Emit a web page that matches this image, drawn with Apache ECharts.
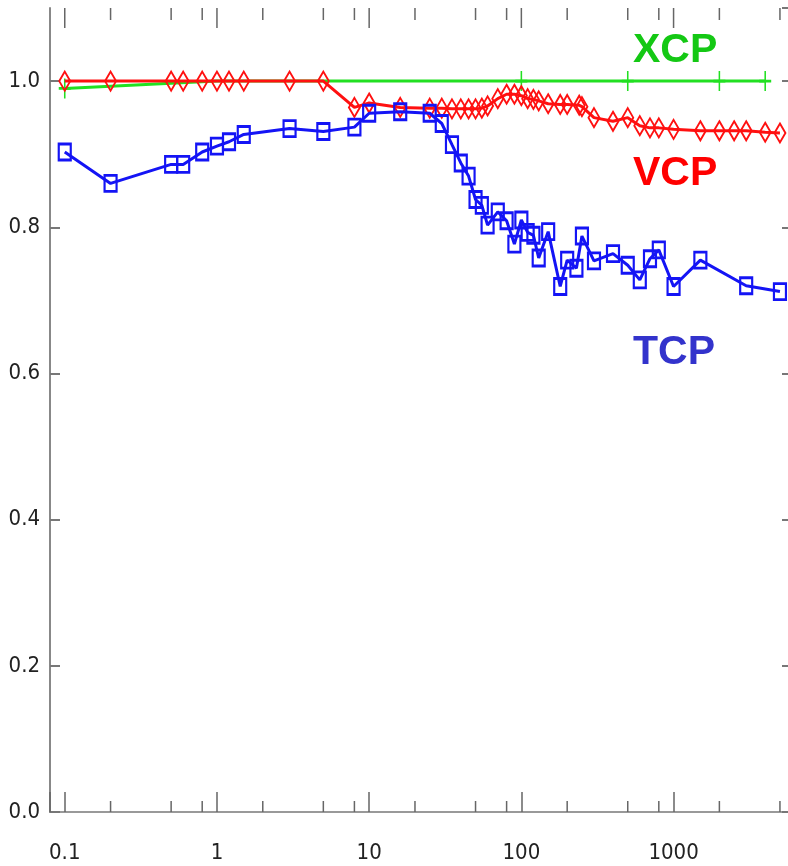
<!DOCTYPE html>
<html>
<head>
<meta charset="utf-8">
<script src="https://cdn.jsdelivr.net/npm/echarts@6/dist/echarts.min.js"></script>
<style>
html,body{margin:0;padding:0;background:#fff;}
#chart{width:788px;height:866px;}
</style>
</head>
<body>
<div id="chart"></div>
<script>
// ---- data ----
const tcpX = [0.1,0.2,0.5,0.6,0.8,1,1.2,1.5,3,5,8,10,16,25,30,35,40,45,50,55,60,70,80,90,100,110,120,130,150,180,200,230,250,300,400,500,600,700,800,1000,1500,3000,5000];
const tcpY = [0.903,0.860,0.886,0.886,0.903,0.911,0.917,0.927,0.935,0.931,0.937,0.956,0.958,0.956,0.942,0.913,0.888,0.870,0.838,0.830,0.803,0.821,0.809,0.777,0.810,0.793,0.789,0.758,0.794,0.719,0.755,0.744,0.788,0.754,0.764,0.748,0.728,0.757,0.769,0.719,0.755,0.720,0.712];

const vcpX = [0.1,0.2,0.5,0.6,0.8,1,1.2,1.5,3,5,8,10,16,25,30,35,40,45,50,55,60,70,80,90,100,110,120,130,150,180,200,240,250,300,400,500,600,700,800,1000,1500,2000,2500,3000,4000,5000];
const vcpY = [1,1,1,1,1,1,1,1,1,1,0.964,0.970,0.964,0.963,0.963,0.962,0.962,0.962,0.962,0.963,0.966,0.976,0.982,0.982,0.980,0.976,0.975,0.973,0.969,0.968,0.968,0.967,0.965,0.950,0.945,0.950,0.939,0.936,0.936,0.934,0.932,0.932,0.932,0.932,0.930,0.929];

const xcpX = [0.1,0.2,0.5,1,100,500,2000,4000];
const xcpY = [0.990,0.993,0.997,1.0,1.0,1.0,1.0,1.0];

const xTickValues = [0.1,1,10,100,1000];
const xTickLabels = ['0.1','1','10','100','1000'];
const xMinorTicks = [0.2,0.5,0.8,2,5,8,20,50,80,200,500,800,2000,5000];

const seriesNames = ['XCP','VCP','TCP'];

// ---- chart ----
const X_MIN = 0.08, X_MAX = 6000, Y_MIN = 0, Y_MAX = 1.1;
const axisFont = '"Liberation Sans Narrow","DejaVu Sans Condensed","Liberation Sans",sans-serif';
const chart = echarts.init(document.getElementById('chart'), null, {renderer:'canvas'});
const zip = (xs, ys) => xs.map((x, i) => [x, ys[i]]);
const plusPath = 'path://M5,0L5,10M0,5L10,5';

function xLabel(v){
  const i = xTickValues.findIndex(t => Math.abs(Math.log10(v) - Math.log10(t)) < 1e-6);
  return i >= 0 ? xTickLabels[i] : '';
}

function tickSeries(values, lenBottom, lenTop){
  return {
    type: 'custom', silent: true, clip: false, z: 1,
    data: values.map(v => [v, 0]),
    encode: {x: 0, y: 1},
    renderItem: function(params, api){
      const pb = api.coord([api.value(0), Y_MIN]);
      const pt = api.coord([api.value(0), Y_MAX]);
      const st = {stroke: '#666', lineWidth: 1.5};
      const children = [];
      if (lenBottom > 0) children.push({type: 'line', shape: {x1: pb[0], y1: pb[1], x2: pb[0], y2: pb[1] - lenBottom}, style: st});
      if (lenTop > 0) children.push({type: 'line', shape: {x1: pt[0], y1: pt[1], x2: pt[0], y2: pt[1] + lenTop}, style: st});
      return {type: 'group', children: children};
    }
  };
}

const option = {
  animation: false,
  backgroundColor: '#fff',
  grid: {left: 50, top: 8, right: -4, bottom: 54, containLabel: false, outerBoundsMode: 'none'},
  xAxis: [
    {
      type: 'log', logBase: 10, min: X_MIN, max: X_MAX, position: 'bottom',
      axisLine: {show: true, lineStyle: {color: '#555', width: 2}},
      axisTick: {show: true, inside: true, length: 20, lineStyle: {color: '#666', width: 1.5}},
      axisLabel: {show: true, formatter: xLabel, margin: 30, color: '#222', fontFamily: axisFont, fontSize: 22},
      splitLine: {show: false}, minorTick: {show: false}
    },
    {
      type: 'log', logBase: 10, min: X_MIN, max: X_MAX, position: 'top',
      axisLine: {show: true, lineStyle: {color: '#999', width: 2}},
      axisTick: {show: false},
      axisLabel: {show: false}, splitLine: {show: false}
    }
  ],
  yAxis: [
    {
      type: 'value', min: Y_MIN, max: Y_MAX, interval: 0.2, position: 'left',
      axisLine: {show: true, lineStyle: {color: '#888', width: 2}},
      axisTick: {show: true, inside: true, length: 10, lineStyle: {color: '#777', width: 2}},
      axisLabel: {formatter: v => v.toFixed(1), showMaxLabel: false, margin: 10, color: '#222',
                  fontFamily: axisFont, fontSize: 22},
      splitLine: {show: false}
    },
    {
      type: 'value', min: Y_MIN, max: Y_MAX, interval: 0.2, position: 'right',
      axisLine: {show: true, lineStyle: {color: '#888', width: 2}},
      axisTick: {show: true, inside: true, length: 10, lineStyle: {color: '#777', width: 2}},
      axisLabel: {show: false}, splitLine: {show: false}
    }
  ],
  series: [
    tickSeries(xMinorTicks, 11, 12),
    tickSeries(xTickValues, 0, 20),
    {
      name: seriesNames[0], type: 'line', data: zip(xcpX, xcpY), z: 2,
      symbol: (val, p) => (p.dataIndex === 0 || val[0] >= 100) ? plusPath : 'none',
      symbolSize: [12, 20], symbolKeepAspect: false, showAllSymbol: true,
      lineStyle: {color: '#22e022', width: 3},
      itemStyle: {color: '#22e022', borderColor: '#22e022', borderWidth: 2}
    },
    {
      name: seriesNames[1], type: 'line', data: zip(vcpX, vcpY), z: 3,
      symbol: 'diamond', symbolSize: [11, 19], showAllSymbol: true,
      lineStyle: {color: '#ff1010', width: 3},
      itemStyle: {color: 'rgba(255,255,255,0)', borderColor: '#ff1010', borderWidth: 2}
    },
    {
      name: seriesNames[2], type: 'line', data: zip(tcpX, tcpY), z: 4,
      symbol: 'rect', symbolSize: [12, 16], showAllSymbol: true,
      lineStyle: {color: '#1414f5', width: 3},
      itemStyle: {color: 'rgba(255,255,255,0)', borderColor: '#1414f5', borderWidth: 2.5}
    }
  ],
  graphic: [
    {type: 'text', x: 633, y: 51, z: 10, style: {text: seriesNames[0], fill: '#14c814',
      font: 'bold 41px "Liberation Sans", Arial, sans-serif', verticalAlign: 'middle', align: 'left'}},
    {type: 'text', x: 633, y: 174, z: 10, style: {text: seriesNames[1], fill: '#ff0000',
      font: 'bold 41px "Liberation Sans", Arial, sans-serif', verticalAlign: 'middle', align: 'left'}},
    {type: 'text', x: 633, y: 353, z: 10, style: {text: seriesNames[2], fill: '#3333cc',
      font: 'bold 41px "Liberation Sans", Arial, sans-serif', verticalAlign: 'middle', align: 'left'}}
  ]
};
chart.setOption(option);
</script>
</body>
</html>
